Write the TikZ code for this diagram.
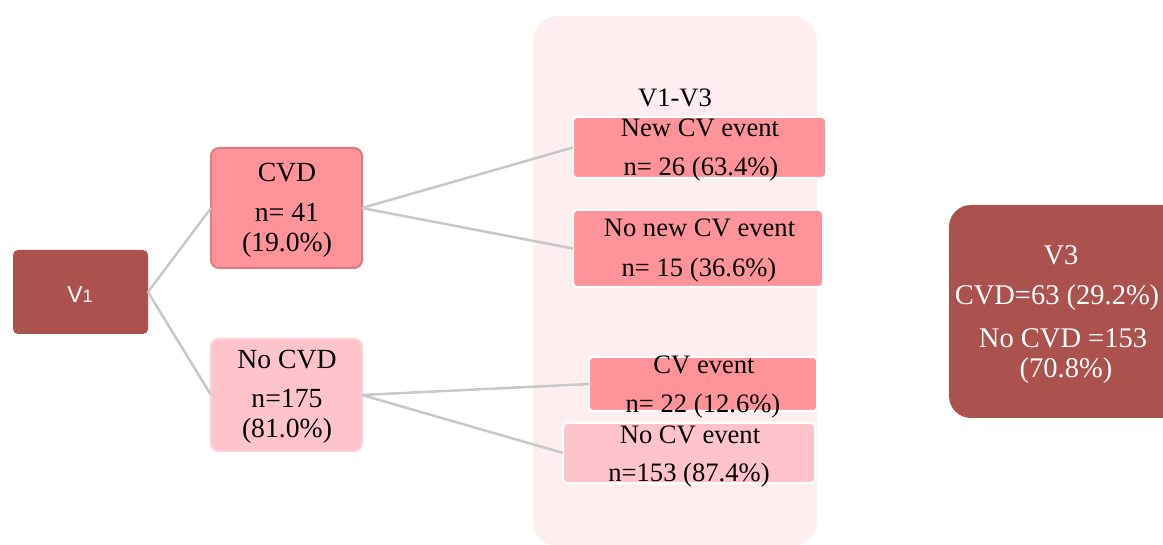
\documentclass[tikz,border=0pt]{standalone}
\usepackage{fontspec}
\setmainfont{Liberation Serif}
\newfontfamily\sansf{Liberation Sans}
\definecolor{darkred}{HTML}{AB524F}
\definecolor{pinkA}{HTML}{FF939A}
\definecolor{pinkAedge}{HTML}{E27A82}
\definecolor{pinkB}{HTML}{FFC4CB}
\definecolor{pinkBedge}{HTML}{FFCFD5}
\definecolor{panelpink}{HTML}{FFEEF0}
\definecolor{linkgray}{HTML}{C8C8C8}
\tikzset{
  box/.style={rectangle, inner sep=0pt, outer sep=0pt, anchor=center},
  darkbox/.style={box, fill=darkred},
  pinkbox/.style={box, fill=pinkA, draw=pinkAedge, line width=2pt, rounded corners=8pt},
  lightbox/.style={box, fill=pinkB, draw=pinkBedge, line width=2pt, rounded corners=8pt},
  evbox/.style={box, fill=pinkA, draw=white, line width=2pt, rounded corners=4pt},
  evlightbox/.style={box, fill=pinkB, draw=white, line width=2pt, rounded corners=4pt},
  txt/.style={inner sep=0pt, anchor=base, font=\fontsize{26.6}{30}\selectfont},
  ltxt/.style={txt, font=\fontsize{27.7}{30}\selectfont},
  wtxt/.style={txt, text=white, font=\fontsize{28.5}{30}\selectfont},
  link/.style={draw=linkgray, line width=2.5pt}
}
\begin{document}
\begin{tikzpicture}[x=1pt,y=-1pt]
\clip (0,0) rectangle (1163,545);
% panel
\node[box, fill=panelpink, rounded corners=25pt, minimum width=284pt, minimum height=530pt] (panel) at (675,281) {};
% boxes
\node[darkbox, rounded corners=5pt, minimum width=135pt, minimum height=84pt] (v1) at (80.5,292) {};
\node[pinkbox, minimum width=151pt, minimum height=120pt] (cvd) at (286.5,208) {};
\node[lightbox, minimum width=151pt, minimum height=112pt] (nocvd) at (286.5,395) {};
\node[evbox, minimum width=253pt, minimum height=61pt] (newcv) at (699.5,147.5) {};
\node[evbox, minimum width=250pt, minimum height=77pt] (nonewcv) at (698,248.5) {};
\node[evbox, minimum width=228pt, minimum height=54pt] (cvev) at (703,384) {};
\node[evlightbox, minimum width=252pt, minimum height=60pt] (nocv) at (689,453) {};
\node[darkbox, rounded corners=22pt, minimum width=240pt, minimum height=213pt] (v3) at (1069,311.5) {};
% connectors
\draw[link] (v1.east) -- (cvd.west);
\draw[link] (v1.east) -- (nocvd.west);
\draw[link] (cvd.east) -- (newcv.west);
\draw[link] (cvd.east) -- (nonewcv.west);
\draw[link] (nocvd.east) -- (cvev.west);
\draw[link] (nocvd.east) -- (nocv.west);
% texts
\node[txt, text=white, font=\sansf\fontsize{23}{24}\selectfont] (tv1) at (80,303) {V{\fontsize{18}{20}\selectfont 1}};
\node[ltxt] (tcvd1) at (287,182) {CVD};
\node[ltxt] (tcvd2) at (287,222) {n= 41};
\node[ltxt] (tcvd3) at (287,252) {(19.0\%)};
\node[ltxt] (tnocvd1) at (287,369) {No CVD};
\node[ltxt] (tnocvd2) at (287,408) {n=175};
\node[ltxt] (tnocvd3) at (287,438) {(81.0\%)};
\node[txt] (tpanel) at (675,107) {V1-V3};
\node[txt] (tnew1) at (700,137) {New CV event};
\node[txt] (tnew2) at (701,176) {n= 26 (63.4\%)};
\node[txt] (tnonew1) at (699.5,237) {No new CV event};
\node[txt] (tnonew2) at (699,277) {n= 15 (36.6\%)};
\node[txt] (tcv1) at (704,374) {CV event};
\node[txt] (tcv2) at (703,413) {n= 22 (12.6\%)};
\node[txt] (tnocv1) at (690,443) {No CV event};
\node[txt] (tnocv2) at (689,482) {n=153 (87.4\%)};
\node[wtxt] (tv31) at (1061,265) {V3};
\node[wtxt] (tv32) at (1057,305) {CVD=63 (29.2\%)};
\node[wtxt] (tv33) at (1063,348) {No CVD =153};
\node[wtxt] (tv34) at (1066,378) {(70.8\%)};
\end{tikzpicture}
\end{document}
